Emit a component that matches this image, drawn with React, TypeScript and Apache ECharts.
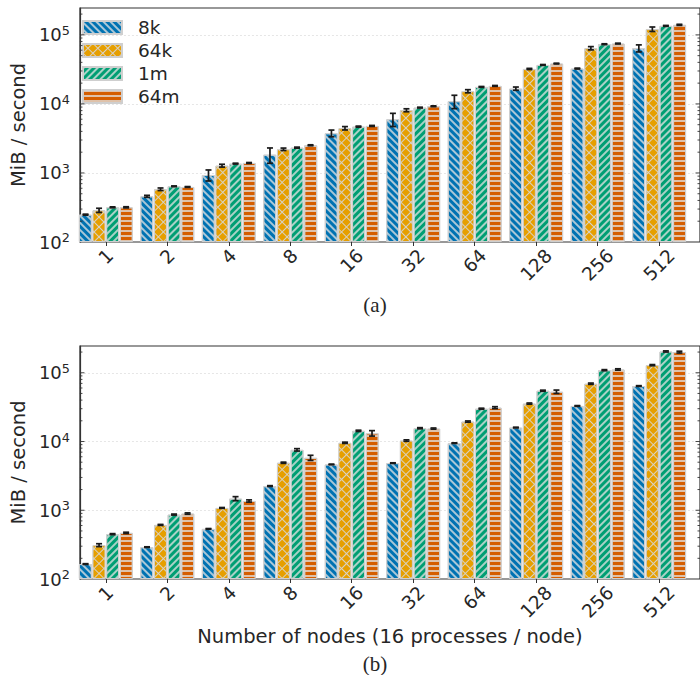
import React, { useEffect, useRef } from "react";
import * as echarts from "echarts";

// Node counts on the x axis and message sizes in the legend
const nodeCounts = ["1", "2", "4", "8", "16", "32", "64", "128", "256", "512"];
const sizes = ["8k", "64k", "1m", "64m"];

// Panel (a): throughput in MiB/s and error half-widths
const a8k = [249, 459, 935, 1841, 3760, 6000, 10940, 16660, 32500, 64100];
const a8kErr = [4, 15, 170, 460, 420, 1300, 2400, 900, 500, 7500];
const a64k = [288, 581, 1276, 2203, 4444, 8100, 15280, 32100, 64100, 121000];
const a64kErr = [20, 25, 60, 90, 250, 400, 800, 600, 3500, 9000];
const a1m = [318, 641, 1365, 2326, 4690, 8840, 17630, 36700, 73300, 135000];
const a1mErr = [5, 8, 20, 40, 80, 120, 250, 500, 1000, 2000];
const a64m = [318, 627, 1396, 2518, 4800, 9250, 18240, 38400, 74800, 139700];
const a64mErr = [6, 8, 20, 40, 80, 120, 250, 500, 1000, 2500];

// Panel (b)
const b8k = [165, 291, 536, 2250, 4640, 4850, 9460, 15950, 32900, 64100];
const b8kErr = [2, 3, 6, 30, 50, 50, 100, 200, 400, 800];
const b64k = [311, 612, 1081, 4910, 9580, 10330, 19500, 35600, 69300, 129000];
const b64kErr = [15, 10, 15, 100, 200, 250, 400, 700, 1500, 2500];
const b1m = [449, 865, 1477, 7570, 14300, 15600, 30000, 54800, 109000, 204000];
const b1mErr = [8, 15, 100, 300, 300, 300, 500, 1000, 2000, 4000];
const b64m = [469, 895, 1365, 5800, 13190, 15420, 31100, 53000, 111700, 199700];
const b64mErr = [10, 20, 50, 500, 1200, 300, 1000, 3000, 2500, 6000];

const majorTicks = [1000, 10000, 100000];
const decades = [100, 1000, 10000, 100000];

const FONT = "DejaVu Sans";
const TEXT = "#262626";
const SPINE = "#333333";
const HATCH = "rgba(226,226,226,0.75)";

const Y_MIN = 100;
const Y_MAX = 245000;

// frame (spines) of each panel and the band layout of the node groups
const FRAME_LEFT = 67;
const FRAME_RIGHT = 701;
const X_LO = -0.63; // frame edges in group units
const X_HI = 9.57;
const UNIT = (FRAME_RIGHT - FRAME_LEFT) / (X_HI - X_LO);
const BAND_LEFT = FRAME_LEFT + (-0.5 - X_LO) * UNIT;
const BAND_RIGHT = BAND_LEFT + nodeCounts.length * UNIT;

// bar slot offsets inside each node group (band units)
const offsets = [-0.33, -0.11, 0.11, 0.33];
const BAR_W = 13;

const colors = ["#0072B2", "#E69F00", "#009E73", "#D55E00"];
const fills = ["#0072B2", "#d8d2c4", "#009E73", "#D55E00"];
const decals: any[] = [
  { symbol: "rect", symbolSize: 1, dashArrayX: [1, 0], dashArrayY: [1.1, 3], rotation: Math.PI / 4, color: HATCH },
  { symbol: "rect", symbolSize: 1, dashArrayX: [5.4, 1], dashArrayY: [5.4, 1], rotation: Math.PI / 4, color: colors[1] },
  { symbol: "rect", symbolSize: 1, dashArrayX: [1, 0], dashArrayY: [1.1, 3], rotation: -Math.PI / 4, color: HATCH },
  { symbol: "rect", symbolSize: 1, dashArrayX: [1, 0], dashArrayY: [1.2, 2.6], rotation: 0, color: HATCH },
];

const XTICK_FS = 18.5;
const YTICK_FS = 18;
const TICK_LH = 21;
const labelRich: any = {};
[1, 2, 3].forEach((n) => {
  const w = n * 0.636 * XTICK_FS;
  const p = 0.5 * (w + TICK_LH);
  labelRich["l" + n] = { padding: [p, p, 0, 0], fontSize: XTICK_FS, lineHeight: TICK_LH, fontFamily: FONT, color: TEXT };
});

const minorTicks: number[] = [];
decades.forEach((d) => {
  for (let k = 2; k <= 9; k++) minorTicks.push(d * k);
});

// grids: 0 = frame (a), 1 = bars (a), 2 = frame (b), 3 = bars (b)
function buildPanel(frame: number, values: number[][], errs: number[][]) {
  const barIdx = frame + 1;
  const bars = values.map((vals, s) => ({
    type: "bar",
    name: sizes[s],
    xAxisIndex: barIdx,
    yAxisIndex: barIdx,
    data: vals,
    barWidth: BAR_W,
    barGap: "5%",
    clip: true,
    silent: true,
    itemStyle: { color: fills[s], borderColor: "#cfcfcf", borderWidth: 1, decal: decals[s] },
  }));
  const errData: number[][] = [];
  values.forEach((vals, s) => vals.forEach((v, i) => errData.push([i, v, errs[s][i], s])));
  const errSeries = {
    type: "custom",
    name: "err" + frame,
    xAxisIndex: barIdx,
    yAxisIndex: barIdx,
    z: 5,
    silent: true,
    data: errData,
    encode: { x: 0, y: 1 },
    renderItem: (params: any, api: any) => {
      const i = api.value(0);
      const v = api.value(1);
      const e = api.value(2);
      const s = api.value(3);
      const band = api.size([1, 0])[0];
      const dx = offsets[s] * band;
      const lo = api.coord([i, v - e]);
      const hi = api.coord([i, v + e]);
      const x = lo[0] + dx;
      const st = { stroke: "#1a1a1a", lineWidth: 1.7 };
      return {
        type: "group",
        children: [
          { type: "line", shape: { x1: x, y1: lo[1], x2: x, y2: hi[1] }, style: st },
          { type: "line", shape: { x1: x - 3, y1: lo[1], x2: x + 3, y2: lo[1] }, style: st },
          { type: "line", shape: { x1: x - 3, y1: hi[1], x2: x + 3, y2: hi[1] }, style: st },
        ],
      };
    },
  };
  const tickData = majorTicks.map((v) => [0, v, 1]).concat(minorTicks.map((v) => [0, v, 0]));
  const tickSeries = {
    type: "custom",
    name: "ticks" + frame,
    xAxisIndex: frame,
    yAxisIndex: frame,
    z: 6,
    silent: true,
    data: tickData,
    encode: { x: 0, y: 1 },
    renderItem: (params: any, api: any) => {
      const cs = params.coordSys;
      const y = api.coord([0, api.value(1)])[1];
      if (y < cs.y - 0.5 || y > cs.y + cs.height + 0.5) return null;
      const len = api.value(2) ? 4.5 : 2.5;
      const st = { stroke: SPINE, lineWidth: 0.9 };
      const r = cs.x + cs.width;
      return {
        type: "group",
        children: [
          { type: "line", shape: { x1: cs.x, y1: y, x2: cs.x + len, y2: y }, style: st },
          { type: "line", shape: { x1: r, y1: y, x2: r - len, y2: y }, style: st },
        ],
      };
    },
  };
  return [...bars, errSeries, tickSeries];
}

function frameX(idx: number, withName: boolean) {
  return {
    type: "value",
    gridIndex: idx,
    min: 0,
    max: 1,
    axisLine: { show: false },
    axisTick: { show: false },
    axisLabel: { show: false },
    splitLine: { show: false },
    name: withName ? "Number of nodes (16 processes / node)" : "",
    nameLocation: "middle",
    nameGap: 47,
    nameTextStyle: { fontSize: 19.5, fontFamily: FONT, color: TEXT },
  };
}

function barX(idx: number) {
  return {
    type: "category",
    gridIndex: idx,
    data: nodeCounts,
    boundaryGap: true,
    axisLine: { show: false },
    axisTick: { show: true, alignWithLabel: true, interval: 0, length: 4, lineStyle: { color: SPINE, width: 1 } },
    axisLabel: {
      interval: 0,
      formatter: (t: string) => `{l${t.length}|${t}}`,
      rotate: 45,
      align: "center",
      verticalAlign: "middle",
      margin: 3,
      rich: labelRich,
      color: TEXT,
      fontFamily: FONT,
      fontSize: XTICK_FS,
    },
    splitLine: { show: false },
  };
}

function frameY(idx: number) {
  return {
    type: "log",
    logBase: 10,
    gridIndex: idx,
    min: Y_MIN,
    max: Y_MAX,
    axisLine: { show: true, onZero: false, lineStyle: { color: SPINE, width: 1.2 } },
    axisTick: { show: false },
    axisLabel: {
      margin: 10,
      formatter: (v: number) => {
        const e = Math.log10(v);
        if (Math.abs(e - Math.round(e)) > 1e-6) return "";
        return `{b|10}{s|${Math.round(e)}}`;
      },
      rich: {
        b: { fontSize: YTICK_FS, lineHeight: 22, fontFamily: FONT, color: TEXT },
        s: { fontSize: 12.8, lineHeight: 13, verticalAlign: "top", fontFamily: FONT, color: TEXT },
      },
    },
    splitLine: {
      show: true,
      showMinLine: false,
      showMaxLine: false,
      lineStyle: { color: "#e0e0e0", type: [2, 2], width: 0.8 },
    },
    name: "MiB / second",
    nameLocation: "middle",
    nameGap: 41,
    nameRotate: 90,
    nameTextStyle: { fontSize: 19.5, fontFamily: FONT, color: TEXT },
  };
}

function barY(idx: number) {
  return {
    type: "log",
    logBase: 10,
    gridIndex: idx,
    min: Y_MIN,
    max: Y_MAX,
    startValue: Y_MIN,
    show: false,
    axisLine: { show: false, onZero: false },
    splitLine: { show: false },
  };
}

export default function App() {
  const ref = useRef<HTMLDivElement>(null);
  useEffect(() => {
    if (!ref.current) return;
    const chart = echarts.init(ref.current, undefined, { renderer: "svg" });
    const W = 700;
    const frame = { left: FRAME_LEFT, right: W - FRAME_RIGHT, show: true, borderColor: SPINE, borderWidth: 1.2, backgroundColor: "transparent" };
    const band = { left: BAND_LEFT, right: W - BAND_RIGHT, show: false };
    chart.setOption({
      animation: false,
      backgroundColor: "#ffffff",
      textStyle: { fontFamily: FONT },
      grid: [
        { ...frame, top: 8, height: 234 },
        { ...band, top: 8, height: 234 },
        { ...frame, top: 346, height: 233 },
        { ...band, top: 346, height: 233 },
      ],
      legend: {
        data: sizes,
        orient: "vertical",
        left: 82,
        top: 18,
        padding: 0,
        itemWidth: 39,
        itemHeight: 13,
        itemGap: 4,
        icon: "rect",
        selectedMode: false,
        textStyle: { fontSize: 18.5, fontFamily: FONT, color: TEXT, padding: [0, 0, 0, 11] },
      },
      xAxis: [frameX(0, false), barX(1), frameX(2, true), barX(3)],
      yAxis: [frameY(0), barY(1), frameY(2), barY(3)],
      series: [
        ...buildPanel(0, [a8k, a64k, a1m, a64m], [a8kErr, a64kErr, a1mErr, a64mErr]),
        ...buildPanel(2, [b8k, b64k, b1m, b64m], [b8kErr, b64kErr, b1mErr, b64mErr]),
      ],
      graphic: [
        { type: "text", x: 375, y: 305, style: { text: "(a)", font: "21px 'Liberation Serif'", fill: TEXT, align: "center", verticalAlign: "middle" } },
        { type: "text", x: 375, y: 664, style: { text: "(b)", font: "21px 'Liberation Serif'", fill: TEXT, align: "center", verticalAlign: "middle" } },
      ],
    });
    return () => chart.dispose();
  }, []);
  return <div ref={ref} style={{ position: "absolute", left: 0, top: 0, width: 700, height: 675 }} />;
}
